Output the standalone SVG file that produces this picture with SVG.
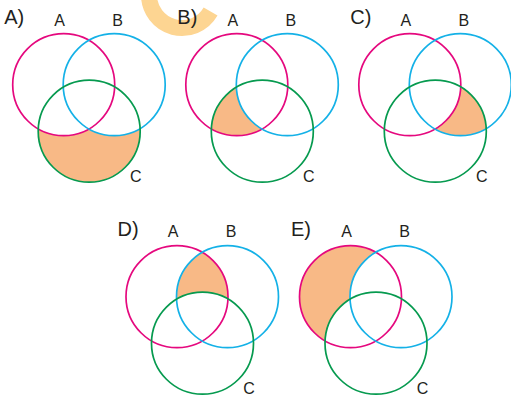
<svg xmlns="http://www.w3.org/2000/svg" width="511" height="397" viewBox="0 0 511 397">
<style>
.ca{fill:none;stroke:#e5087e;stroke-width:1.7}
.cb{fill:none;stroke:#14b1e7;stroke-width:1.7}
.cc{fill:none;stroke:#069a4f;stroke-width:1.7}
.sh{fill:#f8b986;stroke:none}
.pl{font-family:"Liberation Sans",Arial,sans-serif;font-size:20px;fill:#231f20}
.lb{font-family:"Liberation Sans",Arial,sans-serif;font-size:16px;fill:#231f20;text-anchor:middle}
</style>
<defs>
<clipPath id="clipB"><circle cx="50.5" cy="0" r="51"/></clipPath>
<clipPath id="clipC"><circle cx="25.5" cy="46.5" r="51"/></clipPath>
<mask id="notAB" maskUnits="userSpaceOnUse" x="-100" y="-100" width="300" height="300"><rect x="-100" y="-100" width="300" height="300" fill="#fff"/><circle cx="0" cy="0" r="51" fill="#000"/><circle cx="50.5" cy="0" r="51" fill="#000"/></mask>
<mask id="notA" maskUnits="userSpaceOnUse" x="-100" y="-100" width="300" height="300"><rect x="-100" y="-100" width="300" height="300" fill="#fff"/><circle cx="0" cy="0" r="51" fill="#000"/></mask>
<mask id="notB" maskUnits="userSpaceOnUse" x="-100" y="-100" width="300" height="300"><rect x="-100" y="-100" width="300" height="300" fill="#fff"/><circle cx="50.5" cy="0" r="51" fill="#000"/></mask>
<mask id="notC" maskUnits="userSpaceOnUse" x="-100" y="-100" width="300" height="300"><rect x="-100" y="-100" width="300" height="300" fill="#fff"/><circle cx="25.5" cy="46.5" r="51" fill="#000"/></mask>
<mask id="notBC" maskUnits="userSpaceOnUse" x="-100" y="-100" width="300" height="300"><rect x="-100" y="-100" width="300" height="300" fill="#fff"/><circle cx="50.5" cy="0" r="51" fill="#000"/><circle cx="25.5" cy="46.5" r="51" fill="#000"/></mask>
<g id="circles">
<circle class="ca" cx="0" cy="0" r="51"/>
<circle class="cb" cx="50.5" cy="0" r="51"/>
<circle class="cc" cx="25.5" cy="46.5" r="51"/>
</g>
</defs>
<path d="M 149 -5 A 33 33 0 0 0 210.6 11.5" fill="none" stroke="#fdd592" stroke-width="16"/>
<g id="panelA" transform="translate(63.7,84.7)">
<circle class="sh" cx="25.5" cy="46.5" r="51" mask="url(#notAB)"/>
<use href="#circles"/>
<text class="pl" x="-59.5" y="-60.7">A)</text>
<text class="lb" x="-4" y="-58.7">A</text>
<text class="lb" x="54" y="-58.7">B</text>
<text class="lb" x="72" y="97.5">C</text>
</g>
<g id="panelB" transform="translate(236.8,84.7)">
<g clip-path="url(#clipC)"><circle class="sh" cx="0" cy="0" r="51" mask="url(#notB)"/></g>
<use href="#circles"/>
<text class="pl" x="-59.5" y="-60.7">B)</text>
<text class="lb" x="-4" y="-58.7">A</text>
<text class="lb" x="54" y="-58.7">B</text>
<text class="lb" x="72" y="97.5">C</text>
</g>
<g id="panelC" transform="translate(409.8,84.7)">
<g clip-path="url(#clipC)"><circle class="sh" cx="50.5" cy="0" r="51" mask="url(#notA)"/></g>
<use href="#circles"/>
<text class="pl" x="-59.5" y="-60.7">C)</text>
<text class="lb" x="-4" y="-58.7">A</text>
<text class="lb" x="54" y="-58.7">B</text>
<text class="lb" x="72" y="97.5">C</text>
</g>
<g id="panelD" transform="translate(177,296.7)">
<g clip-path="url(#clipB)"><circle class="sh" cx="0" cy="0" r="51" mask="url(#notC)"/></g>
<use href="#circles"/>
<text class="pl" x="-59.5" y="-60.7">D)</text>
<text class="lb" x="-4" y="-59.5">A</text>
<text class="lb" x="54" y="-59.5">B</text>
<text class="lb" x="72" y="97">C</text>
</g>
<g id="panelE" transform="translate(350.5,296.7)">
<circle class="sh" cx="0" cy="0" r="51" mask="url(#notBC)"/>
<use href="#circles"/>
<text class="pl" x="-59.5" y="-60.7">E)</text>
<text class="lb" x="-4" y="-59.5">A</text>
<text class="lb" x="54" y="-59.5">B</text>
<text class="lb" x="72" y="97">C</text>
</g>
</svg>
